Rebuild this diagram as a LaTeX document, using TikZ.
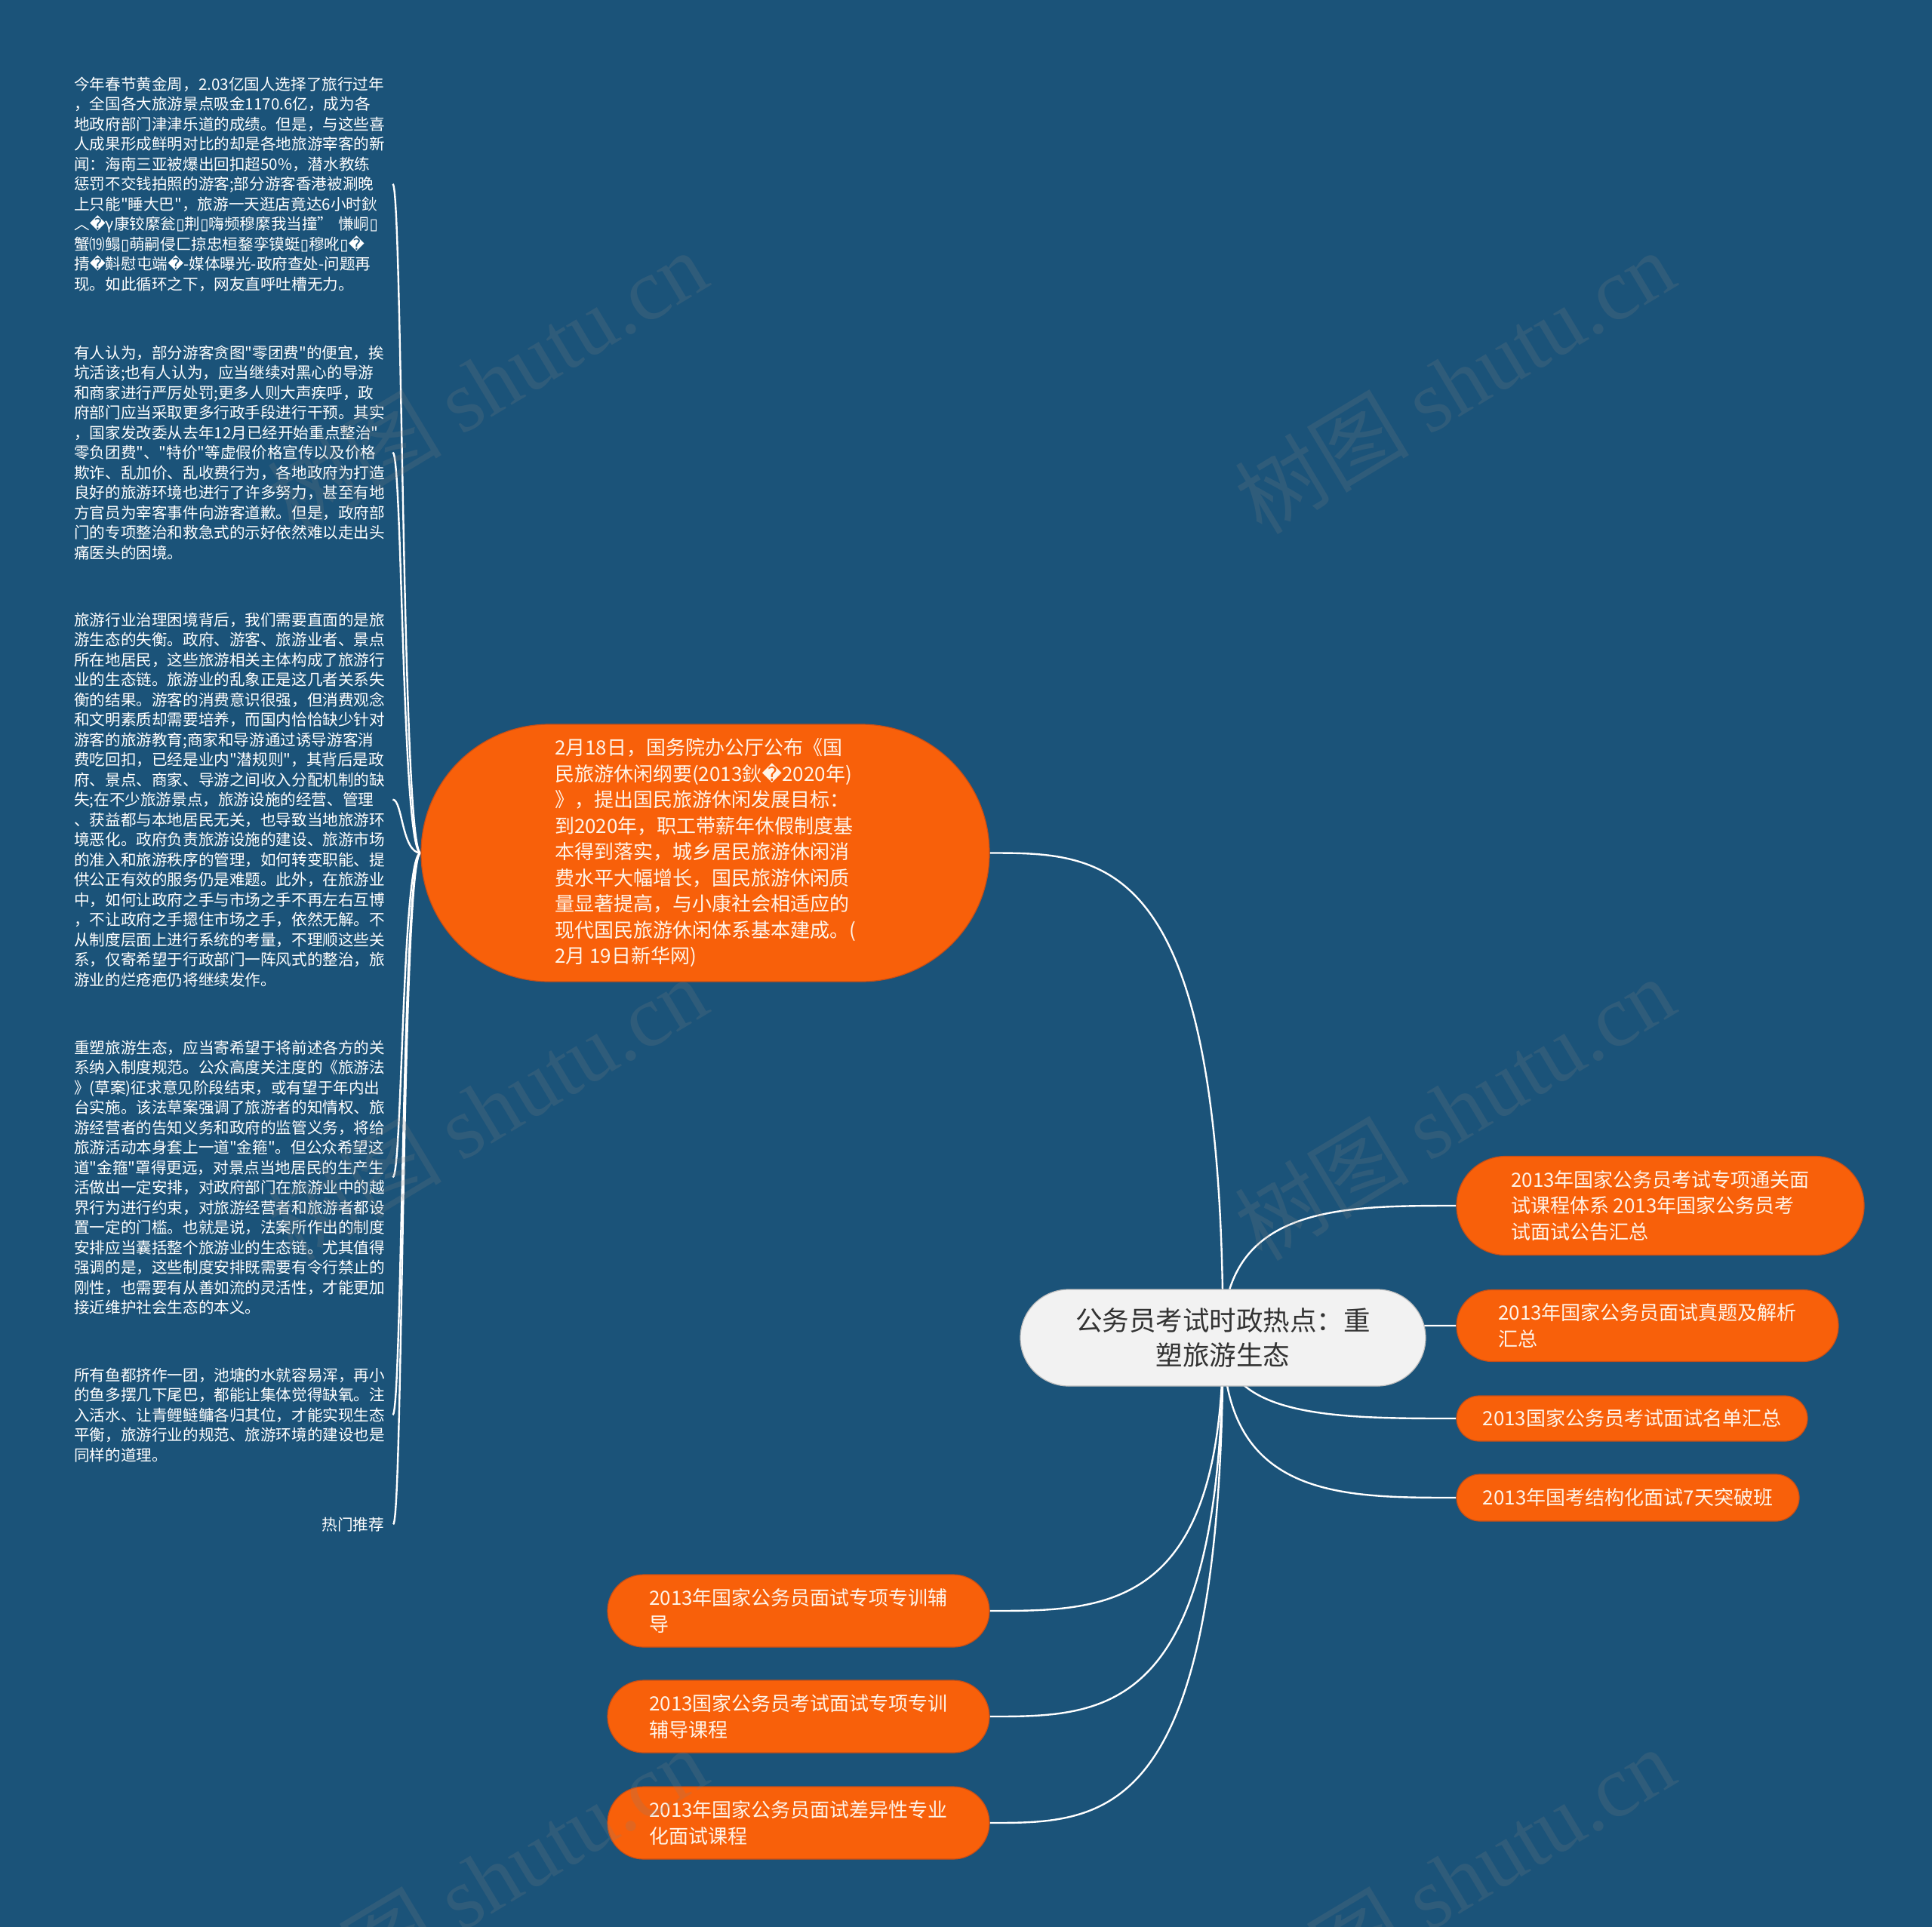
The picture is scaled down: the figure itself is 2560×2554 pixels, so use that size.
\documentclass[tikz,border=0pt]{standalone}
\usepackage{fontspec}
\setmainfont{Noto Sans CJK SC}[Ligatures=TeXOff]
\newfontfamily\dvfont{DejaVu Sans}
\newfontfamily\wmserif{Liberation Serif}
\newcommand\rpl{{\dvfont\char"FFFD}}
\newcommand\bx{{\dvfont\char"25AF}}
\definecolor{bgblue}{RGB}{27,83,121}
\definecolor{nodeorange}{RGB}{248,96,10}
\definecolor{nodeedge}{RGB}{200,78,22}
\definecolor{nodetext}{RGB}{255,244,232}
\definecolor{rootfill}{RGB}{242,242,242}
\definecolor{rootedge}{RGB}{190,190,190}
\definecolor{roottext}{RGB}{51,51,51}
\pgfdeclarelayer{bgl}
\pgfdeclarelayer{edges}
\pgfdeclarelayer{wm}
\pgfsetlayers{bgl,edges,main,wm}
\tikzset{
  orangebox/.style={fill=nodeorange, draw=nodeedge, line width=1.2pt, text=nodetext,
    align=left, inner sep=0pt, font=\fontsize{26}{34.5}\selectfont},
  rootbox/.style={fill=rootfill, draw=rootedge, line width=1.2pt, text=roottext,
    align=center, inner sep=0pt, font=\fontsize{35.5}{45.7}\selectfont},
  textblock/.style={text=white, align=left, text width=420pt, inner xsep=2pt, inner ysep=0pt,
    anchor=base west, font=\fontsize{20.6}{26.5}\selectfont},
  link/.style={draw=white, line width=2.4pt},
  wmark/.style={text=gray, text opacity=0.2, rotate=31, font=\fontsize{116}{120}\selectfont}
}
\begin{document}
\begin{tikzpicture}[x=1pt,y=-1pt]
\useasboundingbox (0,0) rectangle (2560,2554);
\begin{pgfonlayer}{bgl}
\fill[bgblue] (0,0) rectangle (2560,2554);
\end{pgfonlayer}

% root
\node[rootbox, minimum width=537pt, minimum height=128pt, rounded corners=64pt] (root) at (1620.5,1773)
  {公务员考试时政热点：重\\塑旅游生态};

% big orange node
\node[orangebox, minimum width=753pt, minimum height=341pt, rounded corners=170pt] (big) at (934.5,1130.5)
  {2月18日，国务院办公厅公布《国\\
   民旅游休闲纲要(2013鈥\rpl 2020年)\\
   》，提出国民旅游休闲发展目标：\\
   到2020年，职工带薪年休假制度基\\
   本得到落实，城乡居民旅游休闲消\\
   费水平大幅增长，国民旅游休闲质\\
   量显著提高，与小康社会相适应的\\
   现代国民旅游休闲体系基本建成。(\\
   2月 19日新华网)};

% right children
\node[orangebox, minimum width=540pt, minimum height=131pt, rounded corners=65pt] (r1) at (2200,1598)
  {2013年国家公务员考试专项通关面\\试课程体系 2013年国家公务员考\\试面试公告汇总};
\node[orangebox, minimum width=506pt, minimum height=95pt, rounded corners=47pt] (r2) at (2183,1757)
  {2013年国家公务员面试真题及解析\\汇总};
\node[orangebox, minimum width=465pt, minimum height=60pt, rounded corners=30pt] (r3) at (2162.5,1880)
  {2013国家公务员考试面试名单汇总};
\node[orangebox, minimum width=454pt, minimum height=62pt, rounded corners=31pt] (r4) at (2157,1985)
  {2013年国考结构化面试7天突破班};

% bottom-left children
\node[orangebox, minimum width=506pt, minimum height=96pt, rounded corners=48pt] (l1) at (1058,2135)
  {2013年国家公务员面试专项专训辅\\导};
\node[orangebox, minimum width=506pt, minimum height=96pt, rounded corners=48pt] (l2) at (1058,2275)
  {2013国家公务员考试面试专项专训\\辅导课程};
\node[orangebox, minimum width=506pt, minimum height=96pt, rounded corners=48pt] (l3) at (1058,2416)
  {2013年国家公务员面试差异性专业\\化面试课程};

% left text blocks
\node[textblock] (b1) at (96,119)
  {今年春节黄金周，2.03亿国人选择了旅行过年\\
   ，全国各大旅游景点吸金1170.6亿，成为各\\
   地政府部门津津乐道的成绩。但是，与这些喜\\
   人成果形成鲜明对比的却是各地旅游宰客的新\\
   闻：海南三亚被爆出回扣超50\%，潜水教练\\
   惩罚不交钱拍照的游客;部分游客香港被涮晚\\
   上只能"睡大巴"，旅游一天逛店竟达6小时鈥\\
   ︿\rpl γ康铰縻瓮\bx 荆\bx 嗨频穆縻我当撞” 慊峒\bx\\
   蟹⒆鳎\bx 萌嗣侵匚掠忠桓鍪孪镆蜓\bx 穆吪\bx\rpl\\
   掅\rpl 斢慰屯端\rpl -媒体曝光-政府查处-问题再\\
   现。如此循环之下，网友直呼吐槽无力。};
\node[textblock] (b2) at (96,475)
  {有人认为，部分游客贪图"零团费"的便宜，挨\\
   坑活该;也有人认为，应当继续对黑心的导游\\
   和商家进行严厉处罚;更多人则大声疾呼，政\\
   府部门应当采取更多行政手段进行干预。其实\\
   ，国家发改委从去年12月已经开始重点整治"\\
   零负团费"、"特价"等虚假价格宣传以及价格\\
   欺诈、乱加价、乱收费行为，各地政府为打造\\
   良好的旅游环境也进行了许多努力，甚至有地\\
   方官员为宰客事件向游客道歉。但是，政府部\\
   门的专项整治和救急式的示好依然难以走出头\\
   痛医头的困境。};
\node[textblock] (b3) at (96,829)
  {旅游行业治理困境背后，我们需要直面的是旅\\
   游生态的失衡。政府、游客、旅游业者、景点\\
   所在地居民，这些旅游相关主体构成了旅游行\\
   业的生态链。旅游业的乱象正是这几者关系失\\
   衡的结果。游客的消费意识很强，但消费观念\\
   和文明素质却需要培养，而国内恰恰缺少针对\\
   游客的旅游教育;商家和导游通过诱导游客消\\
   费吃回扣，已经是业内"潜规则"，其背后是政\\
   府、景点、商家、导游之间收入分配机制的缺\\
   失;在不少旅游景点，旅游设施的经营、管理\\
   、获益都与本地居民无关，也导致当地旅游环\\
   境恶化。政府负责旅游设施的建设、旅游市场\\
   的准入和旅游秩序的管理，如何转变职能、提\\
   供公正有效的服务仍是难题。此外，在旅游业\\
   中，如何让政府之手与市场之手不再左右互博\\
   ，不让政府之手摁住市场之手，依然无解。不\\
   从制度层面上进行系统的考量，不理顺这些关\\
   系，仅寄希望于行政部门一阵风式的整治，旅\\
   游业的烂疮疤仍将继续发作。};
\node[textblock] (b4) at (96,1396)
  {重塑旅游生态，应当寄希望于将前述各方的关\\
   系纳入制度规范。公众高度关注度的《旅游法\\
   》(草案)征求意见阶段结束，或有望于年内出\\
   台实施。该法草案强调了旅游者的知情权、旅\\
   游经营者的告知义务和政府的监管义务，将给\\
   旅游活动本身套上一道"金箍"。但公众希望这\\
   道"金箍"罩得更远，对景点当地居民的生产生\\
   活做出一定安排，对政府部门在旅游业中的越\\
   界行为进行约束，对旅游经营者和旅游者都设\\
   置一定的门槛。也就是说，法案所作出的制度\\
   安排应当囊括整个旅游业的生态链。尤其值得\\
   强调的是，这些制度安排既需要有令行禁止的\\
   刚性，也需要有从善如流的灵活性，才能更加\\
   接近维护社会生态的本义。};
\node[textblock] (b5) at (96,1830)
  {所有鱼都挤作一团，池塘的水就容易浑，再小\\
   的鱼多摆几下尾巴，都能让集体觉得缺氧。注\\
   入活水、让青鲤鲢鳙各归其位，才能实现生态\\
   平衡，旅游行业的规范、旅游环境的建设也是\\
   同样的道理。};
\node[text=white, inner xsep=12pt, inner ysep=0pt, anchor=base east,
  font=\fontsize{20.6}{26.5}\selectfont] (hot) at (521,2028) {热门推荐};

% connectors
\begin{pgfonlayer}{edges}
\draw[link] (root.center) .. controls +(0,-642) and +(155,0) .. (big.east);
\draw[link] (root.center) .. controls +(0,-175) and +(-155,0) .. (r1.west);
\draw[link] (root.center) .. controls +(0,-16) and +(-155,0) .. (r2.west);
\draw[link] (root.center) .. controls +(0,107) and +(-155,0) .. (r3.west);
\draw[link] (root.center) .. controls +(0,212) and +(-155,0) .. (r4.west);
\draw[link] (root.center) .. controls +(0,362) and +(155,0) .. (l1.east);
\draw[link] (root.center) .. controls +(0,502) and +(155,0) .. (l2.east);
\draw[link] (root.center) .. controls +(0,643) and +(155,0) .. (l3.east);
\foreach \b in {b1,b2,b3,b4,b5,hot}{
  \draw[link] (big.west) .. controls +(-25,0) and +(13,0) .. (\b.east);
}
\end{pgfonlayer}

% watermarks
\begin{pgfonlayer}{wm}
\node[wmark] (w1) at (645,506) {树图 {\wmserif shutu.cn}};
\node[wmark] (w2) at (1927,506) {树图 {\wmserif shutu.cn}};
\node[wmark] (w3) at (645,1469) {树图 {\wmserif shutu.cn}};
\node[wmark] (w4) at (1927,1469) {树图 {\wmserif shutu.cn}};
\node[wmark] (w5) at (645,2490) {树图 {\wmserif shutu.cn}};
\node[wmark] (w6) at (1927,2490) {树图 {\wmserif shutu.cn}};
\end{pgfonlayer}
\end{tikzpicture}
\end{document}
